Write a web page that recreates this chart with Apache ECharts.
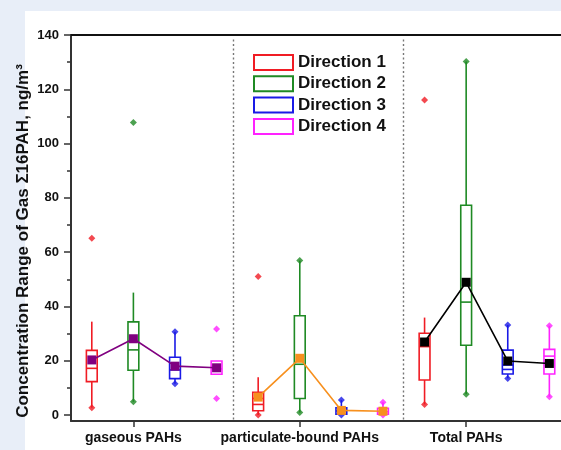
<!DOCTYPE html>
<html>
<head>
<meta charset="utf-8">
<script src="https://cdn.jsdelivr.net/npm/echarts@6/dist/echarts.min.js"></script>
<style>
html,body{margin:0;padding:0;background:#e8eef8;}
#panel{position:absolute;left:25px;top:11px;width:536px;height:439px;background:#fff;}
#chart{position:absolute;left:0;top:0;width:561px;height:450px;}
</style>
</head>
<body>
<div id="panel"></div>
<div id="chart"></div>
<script>
// ---- data ----
const categories = ['gaseous PAHs', 'particulate-bound PAHs', 'Total PAHs'];
const directions = ['Direction 1', 'Direction 2', 'Direction 3', 'Direction 4'];
// each box: [whiskerLow, q1, median, q3, whiskerHigh, extraInnerLine]
const boxD1 = [[2.7, 12.3, 17.2, 23.8, 34.4, null], [0.0, 1.6, 3.9, 8.4, 13.9, 6.1], [3.9, 12.9, 25.2, 30.1, 35.9, null]];
const boxD2 = [[4.9, 16.5, 24.0, 34.3, 45.1, null], [0.9, 6.1, 18.7, 36.6, 56.9, null], [7.7, 25.7, 41.6, 77.3, 130.2, null]];
const boxD3 = [[11.5, 13.4, 16.6, 21.3, 30.7, null], [0.0, 0.3, 1.5, 2.7, 5.5, null], [13.5, 15.1, 16.8, 23.9, 33.2, 18.4]];
const boxD4 = [[15.0, 15.0, 17.0, 19.9, 19.9, null], [0.0, 0.3, 1.2, 2.5, 4.7, null], [6.7, 15.1, 21.7, 24.2, 32.9, null]];
// min / max diamond markers per group
const ptsD1 = [[2.7, 65.1], [0.0, 51.0], [3.9, 116.1]];
const ptsD2 = [[4.9, 107.8], [0.9, 56.9], [7.7, 130.2]];
const ptsD3 = [[11.5, 30.7], [0.0, 5.5], [13.5, 33.2]];
const ptsD4 = [[6.1, 31.7], [0.0, 4.7], [6.7, 32.9]];
// means per group, directions 1..4
const meanGas = [20.3, 28.1, 18.0, 17.4];
const meanPart = [6.6, 20.9, 1.7, 1.4];
const meanTotal = [26.9, 48.9, 19.9, 19.0];
const separators = [4.40, 8.49];
const yMajor = [0, 20, 40, 60, 80, 100, 120, 140];
const yMinor = [10, 30, 50, 70, 90, 110, 130];

// ---- styles ----
const dirColors = ['#f01c24', '#1f8a24', '#1a1ae6', '#ff22ff'];
const meanColors = ['#800080', '#f7901e', '#000000'];
const font = 'Arial, "Liberation Sans", sans-serif';

const boxes = [boxD1, boxD2, boxD3, boxD4];
const pts = [ptsD1, ptsD2, ptsD3, ptsD4];
const means = [meanGas, meanPart, meanTotal];
const xPos = (g, d) => g * 4 + d + 1;

function renderBox(color) {
  return function (params, api) {
    const x = api.value(0);
    const lo = api.value(1), q1 = api.value(2), med = api.value(3), q3 = api.value(4), hi = api.value(5), ex = api.value(6);
    const hw = api.size([0.26, 0])[0] / 2;
    const c = (v) => api.coord([x, v]);
    const pLo = c(lo), pQ1 = c(q1), pMed = c(med), pQ3 = c(q3), pHi = c(hi);
    const st = { stroke: color, lineWidth: 1.6, fill: null };
    const ch = [];
    if (hi > q3) ch.push({ type: 'line', shape: { x1: pQ3[0], y1: pQ3[1], x2: pHi[0], y2: pHi[1] }, style: st });
    if (lo < q1) ch.push({ type: 'line', shape: { x1: pQ1[0], y1: pQ1[1], x2: pLo[0], y2: pLo[1] }, style: st });
    ch.push({ type: 'rect', shape: { x: pQ3[0] - hw, y: pQ3[1], width: hw * 2, height: pQ1[1] - pQ3[1] }, style: { stroke: color, lineWidth: 1.6, fill: '#fff' } });
    ch.push({ type: 'line', shape: { x1: pMed[0] - hw, y1: pMed[1], x2: pMed[0] + hw, y2: pMed[1] }, style: st });
    if (!isNaN(ex)) {
      const pe = c(ex);
      ch.push({ type: 'line', shape: { x1: pe[0] - hw, y1: pe[1], x2: pe[0] + hw, y2: pe[1] }, style: st });
    }
    return { type: 'group', children: ch };
  };
}

const series = [];
directions.forEach((name, d) => {
  series.push({
    name: name,
    type: 'custom',
    renderItem: renderBox(dirColors[d]),
    itemStyle: { color: dirColors[d] },
    encode: { x: 0, y: [1, 2, 3, 4, 5] },
    data: boxes[d].map((b, g) => [xPos(g, d)].concat(b.map(v => v === null ? '-' : v))),
    z: 2
  });
});
directions.forEach((name, d) => {
  const data = [];
  pts[d].forEach((p, g) => p.forEach(v => data.push([xPos(g, d), v])));
  series.push({
    name: name + ' pts',
    type: 'scatter',
    symbol: 'diamond',
    symbolSize: [7, 7],
    itemStyle: { color: dirColors[d] },
    data: data,
    z: 4,
    silent: true
  });
});
means.forEach((m, g) => {
  series.push({
    name: 'mean ' + categories[g],
    type: 'line',
    symbol: 'rect',
    symbolSize: 9,
    itemStyle: { color: meanColors[g] },
    lineStyle: { color: meanColors[g], width: 1.6 },
    data: m.map((v, d) => [xPos(g, d), v]),
    z: 5,
    silent: true
  });
});
series.push({
  type: 'line', data: [], silent: true,
  markLine: {
    silent: true, symbol: 'none', label: { show: false },
    lineStyle: { color: '#777', type: [2, 2.5], width: 1.4 },
    data: separators.map(s => [{ coord: [s, 138.3] }, { coord: [s, -2.2] }])
  }
});

const chart = echarts.init(document.getElementById('chart'));
chart.setOption({
  animation: false,
  grid: { left: 71, top: 35, right: 0, bottom: 29 },
  legend: {
    data: directions.map((n, d) => ({ name: n, icon: 'rect', itemStyle: { color: '#fff', borderColor: dirColors[d], borderWidth: 2 } })),
    orient: 'vertical',
    left: 253, top: 54, padding: 0,
    itemWidth: 39, itemHeight: 15, itemGap: 4.3,
    textStyle: { fontFamily: font, fontWeight: 'bold', fontSize: 17, color: '#111' },
    selectedMode: false
  },
  xAxis: [{
    type: 'value', min: 0.5, max: 12.28, position: 'bottom',
    axisLine: { show: true, onZero: false, lineStyle: { color: '#333', width: 2 } },
    axisTick: { show: true, customValues: [2, 6, 10], length: 6, lineStyle: { color: '#333', width: 1.5 } },
    axisLabel: { customValues: [2, 6, 10], formatter: v => categories[Math.round((v - 2) / 4)], fontFamily: font, fontWeight: 'bold', fontSize: 14, color: '#111', margin: 10 },
    splitLine: { show: false }
  }, {
    type: 'value', min: 0.5, max: 12.28, position: 'top',
    axisLine: { show: true, onZero: false, lineStyle: { color: '#111', width: 2 } },
    axisTick: { show: false }, axisLabel: { show: false }, splitLine: { show: false }
  }],
  yAxis: [{
    type: 'value', min: -2.2, max: 140, position: 'left',
    name: 'Concentration Range of Gas Σ16PAH, ng/m³',
    nameLocation: 'middle', nameGap: 39, nameMoveOverlap: false,
    nameTextStyle: { fontFamily: font, fontWeight: 'bold', fontSize: 17, color: '#111', padding: [0, 26, 0, 0] },
    axisLine: { show: true, onZero: false, lineStyle: { color: '#333', width: 2 } },
    axisTick: { show: true, customValues: yMajor, length: 7, lineStyle: { color: '#333', width: 1.5 } },
    axisLabel: { customValues: yMajor, fontFamily: font, fontWeight: 'bold', fontSize: 13, color: '#111', margin: 12 },
    splitLine: { show: false }
  }, {
    type: 'value', min: -2.2, max: 140, position: 'left',
    axisLine: { show: false },
    axisTick: { show: true, customValues: yMinor, length: 4, lineStyle: { color: '#333', width: 1.5 } },
    axisLabel: { show: false }, splitLine: { show: false }
  }],
  series: series
});
</script>
</body>
</html>
